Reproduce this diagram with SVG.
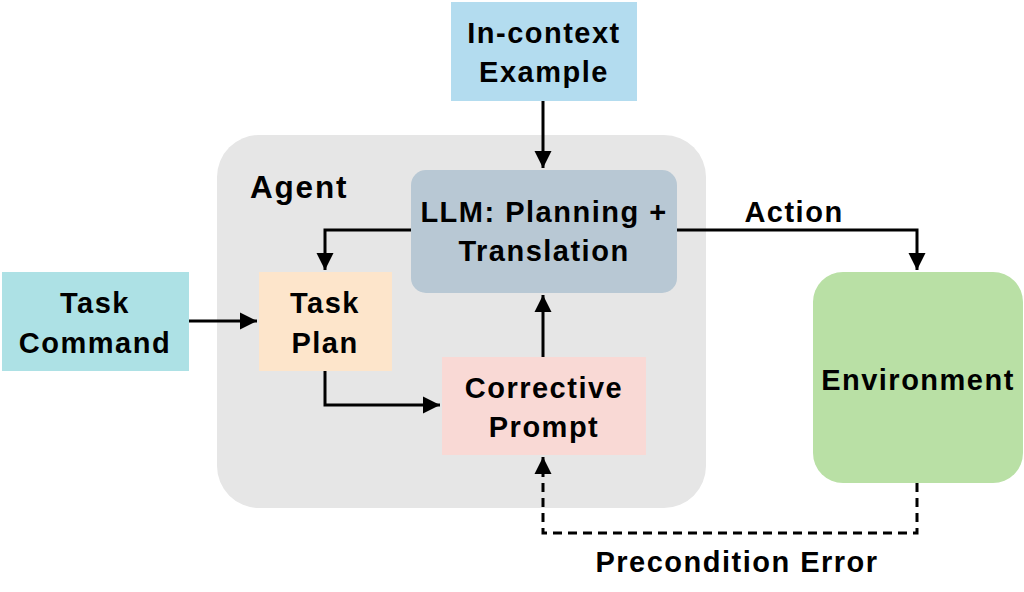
<svg xmlns="http://www.w3.org/2000/svg" width="1024" height="592" viewBox="0 0 1024 592">
<style>
text{font-family:"Liberation Sans",Arial,sans-serif;font-weight:bold;font-size:29px;letter-spacing:1.5px;fill:#000;text-anchor:middle}
.ln{fill:none;stroke:#000;stroke-width:3}
.dash{stroke-dasharray:9,6}
</style>
<defs>
<marker id="ah" viewBox="0 0 10 10" refX="10" refY="5" markerWidth="5.7" markerHeight="5.7" markerUnits="strokeWidth" orient="auto">
<path d="M0,0 L10,5 L0,10 z" fill="#000"/>
</marker>
</defs>
<rect width="1024" height="592" fill="#fff"/>
<g id="agent">
<rect x="217" y="135" width="489" height="373" rx="42" fill="#e6e6e6"/>
<text x="250" y="198" style="text-anchor:start;font-size:31.5px;letter-spacing:1.8px">Agent</text>
</g>
<g id="incontext">
<rect x="451" y="2" width="186" height="99" fill="#b3dcef"/>
<text x="544" y="43">In-context</text>
<text x="544" y="82">Example</text>
</g>
<g id="llm">
<rect x="411" y="170" width="266" height="123" rx="15" fill="#b8c8d4"/>
<text x="544" y="222">LLM: Planning +</text>
<text x="544" y="261">Translation</text>
</g>
<g id="taskcommand">
<rect x="2" y="272" width="187" height="99" fill="#ade1e5"/>
<text x="95" y="313">Task</text>
<text x="95" y="353">Command</text>
</g>
<g id="taskplan">
<rect x="259" y="272" width="133" height="99" fill="#fde5cb"/>
<text x="325" y="313">Task</text>
<text x="325" y="353">Plan</text>
</g>
<g id="corrective">
<rect x="442" y="357" width="204" height="98" fill="#f9d9d5"/>
<text x="544" y="398">Corrective</text>
<text x="544" y="437">Prompt</text>
</g>
<g id="environment">
<rect x="813" y="272" width="210" height="211" rx="30" fill="#b9e0a5"/>
<text x="918" y="390">Environment</text>
</g>
<g id="connectors">
<path class="ln" d="M543,101 V168" marker-end="url(#ah)"/>
<path class="ln" d="M411,230 H325 V270" marker-end="url(#ah)"/>
<path class="ln" d="M189,321 H257" marker-end="url(#ah)"/>
<path class="ln" d="M325,371 V405 H440" marker-end="url(#ah)"/>
<path class="ln" d="M543,357 V295" marker-end="url(#ah)"/>
<path class="ln" d="M677,230 H917 V270" marker-end="url(#ah)"/>
<path class="ln dash" d="M917,483 V533 H543 V457" marker-end="url(#ah)"/>
<text x="794" y="222">Action</text>
<text x="737" y="572">Precondition Error</text>
</g>
</svg>
